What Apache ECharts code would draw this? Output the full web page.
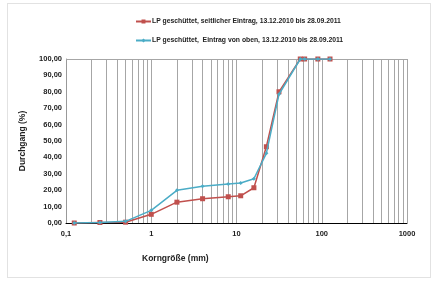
<!DOCTYPE html>
<html>
<head>
<meta charset="utf-8">
<script src="https://cdn.jsdelivr.net/npm/echarts@6/dist/echarts.min.js"></script>
<style>
  html, body { margin: 0; padding: 0; background: #fff; }
  #chart { width: 434px; height: 282px; }
  .frame { position: absolute; left: 7px; top: 3px; width: 424px; height: 275px; border: 1px solid #e2e2e2; box-sizing: border-box; pointer-events: none; }
</style>
</head>
<body>
<div id="chart"></div>
<div class="frame"></div>
<script>
// Korngröße (mm)
var sizes = [0.125, 0.25, 0.5, 1, 2, 4, 8, 11.2, 16, 22.4, 31.5, 56, 63, 90, 125]
// Durchgang (%)
var seitlich = [0, 0.3, 0.5, 5.3, 12.7, 14.8, 16.0, 16.6, 21.5, 46.5, 80.0, 100, 100, 100, 100]
var vonOben = [0, 0.3, 1.0, 7.7, 19.9, 22.4, 23.8, 24.4, 27.0, 42.5, 78.5, 100, 100, 100, 100]
var seriesNames = [
  'LP geschüttet, seitlicher Eintrag, 13.12.2010 bis 28.09.2011',
  'LP geschüttet,  Eintrag von oben, 13.12.2010 bis 28.09.2011'
]

var font = 'Liberation Sans, Arial, sans-serif'

function pairs (ys) {
  return sizes.map(function (x, i) { return [x, ys[i]] })
}

// feine senkrechte Linien 2..9 je Dekade
var gridLines = []
;[0.1, 1, 10, 100].forEach(function (d) {
  for (var k = 2; k <= 9; k++) gridLines.push({ xAxis: +(d * k).toPrecision(3) })
})
gridLines.push({ xAxis: 1000 })
gridLines.push({ yAxis: 100 })

var chart = echarts.init(document.getElementById('chart'))
chart.setOption({
  animation: false,
  textStyle: { fontFamily: font },
  title: {
    text: 'Korngröße (mm)',
    left: 137,
    top: 249,
    textStyle: { fontSize: 8.5, fontWeight: 'bold', color: '#222', fontFamily: font }
  },
  legend: {
    orient: 'vertical',
    left: 135,
    top: 18,
    padding: 0,
    itemGap: 12,
    itemWidth: 15,
    itemHeight: 5,
    textStyle: { fontSize: 6.8, fontWeight: 'bold', color: '#222', fontFamily: font, padding: [0, 0, 0, -4] },
    data: seriesNames
  },
  grid: { left: 66, right: 27, top: 59, bottom: 59 },
  xAxis: {
    type: 'log',
    logBase: 10,
    min: 0.1,
    max: 1000,
    axisLine: { lineStyle: { color: '#000', width: 1 } },
    axisTick: { show: false },
    axisLabel: {
      fontSize: 7.5,
      fontWeight: 'bold',
      color: '#222',
      margin: 7,
      formatter: function (v) { return String(v).replace('.', ',') }
    },
    splitLine: { show: true, lineStyle: { color: '#a6a6a6', width: 1 } }
  },
  yAxis: {
    type: 'value',
    min: 0,
    max: 100,
    interval: 10,
    name: 'Durchgang (%)',
    nameLocation: 'middle',
    nameGap: 39,
    nameTextStyle: { fontSize: 8.5, fontWeight: 'bold', color: '#222' },
    axisLine: { show: true, lineStyle: { color: '#999', width: 1 } },
    axisTick: { show: false },
    axisLabel: {
      fontSize: 7.5,
      fontWeight: 'bold',
      color: '#222',
      margin: 4,
      formatter: function (v) { return v.toFixed(2).replace('.', ',') }
    },
    splitLine: { show: false }
  },
  series: [
    {
      name: seriesNames[0],
      type: 'line',
      data: pairs(seitlich),
      symbol: 'rect',
      symbolSize: 5,
      color: '#c0504d',
      lineStyle: { width: 1.5, color: '#c0504d' },
      itemStyle: { color: '#c0504d' },
      markLine: {
        silent: true,
        symbol: 'none',
        label: { show: false },
        lineStyle: { color: '#a6a6a6', width: 1, type: 'solid' },
        data: gridLines,
        z: 1
      },
      z: 3
    },
    {
      name: seriesNames[1],
      type: 'line',
      data: pairs(vonOben),
      symbol: 'diamond',
      symbolSize: 4,
      color: '#4bacc6',
      lineStyle: { width: 1.5, color: '#4bacc6' },
      itemStyle: { color: '#4bacc6' },
      z: 4
    }
  ]
})
</script>
</body>
</html>
